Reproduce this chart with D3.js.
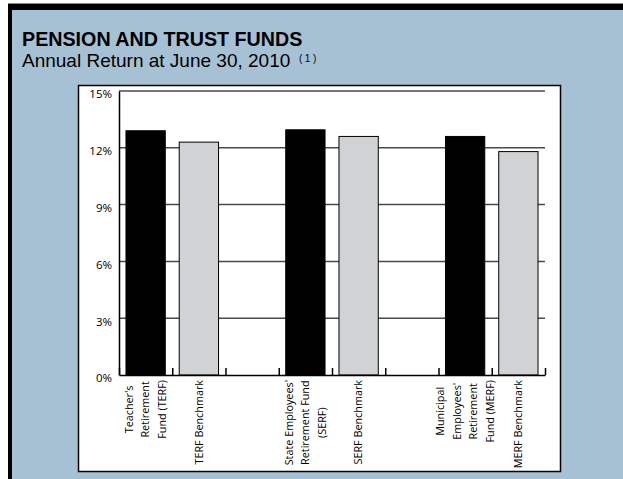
<!DOCTYPE html>
<html><head><meta charset="utf-8">
<script src="https://cdn.jsdelivr.net/npm/d3@7"></script>
<style>body{margin:0;background:#fff} svg{display:block}</style>
</head><body>
<svg id="chart" width="623" height="479"></svg>
<script>
// ---- data ----
const categories = ["TERF", "TERF Benchmark", "gap1", "SERF", "SERF Benchmark", "gap2", "MERF", "MERF Benchmark"];
const categoryLabels = [
  ["Teacher's", "Retirement", "Fund (TERF)"],
  ["TERF Benchmark"],
  [],
  ["State Employees'", "Retirement Fund", "(SERF)"],
  ["SERF Benchmark"],
  [],
  ["Municipal", "Employees'", "Retirement", "Fund (MERF)"],
  ["MERF Benchmark"]
];
const returns = [12.9, 12.3, null, 12.95, 12.6, null, 12.6, 11.8];
const kinds = ["fund", "benchmark", null, "fund", "benchmark", null, "fund", "benchmark"];
const yTicks = [0, 3, 6, 9, 12, 15];
const titleText = "PENSION AND TRUST FUNDS";
const subtitleText = "Annual Return at June 30, 2010";
const noteText = "(1)";

// ---- drawing ----
const svg = d3.select("#chart");
const W = 623, H = 479;

svg.append("rect").attr("width", W).attr("height", H).attr("fill", "#fff");
svg.append("rect").attr("x", 8).attr("y", 3).attr("width", W - 8).attr("height", H - 3).attr("fill", "#8a8a8a");
svg.append("rect").attr("x", 8).attr("y", 4).attr("width", W - 8).attr("height", H - 4).attr("fill", "#000");
svg.append("rect").attr("x", 12).attr("y", 10).attr("width", W - 12).attr("height", H - 10).attr("fill", "#a7c1d4");

svg.append("text").attr("x", 22).attr("y", 46)
  .attr("font-family", "Liberation Sans, Arial, sans-serif").attr("font-weight", "bold")
  .attr("font-size", 19.7).attr("fill", "#000").text(titleText);
svg.append("text").attr("x", 22).attr("y", 67)
  .attr("font-family", "Liberation Sans, Arial, sans-serif")
  .attr("font-size", 19).attr("fill", "#000").text(subtitleText);
svg.append("text").attr("x", 299).attr("y", 62)
  .attr("font-family", "Liberation Sans, Arial, sans-serif")
  .attr("font-size", 10).attr("letter-spacing", 2.5).attr("fill", "#000").text(noteText);

// white panel
svg.append("rect").attr("x", 78.5).attr("y", 85.5).attr("width", 482).attr("height", 386)
  .attr("fill", "#fff").attr("stroke", "#000").attr("stroke-width", 1.5);

const x = d3.scaleBand().domain(categories).range([119, 545]).paddingInner(0.262).paddingOuter(0.131);
const xb = d3.scaleLinear().domain([0, categories.length]).range([119, 545]);
const y = d3.scaleLinear().domain([0, 15]).range([375, 91]);

// gridlines
svg.append("g").selectAll("line").data(yTicks.filter(d => d > 0)).join("line")
  .attr("x1", 119).attr("x2", 545)
  .attr("y1", d => y(d)).attr("y2", d => y(d))
  .attr("stroke", "#4a4a4a").attr("stroke-width", 1.5);

// bars
const data = categories.map((c, i) => ({c, v: returns[i], k: kinds[i]})).filter(d => d.v != null);
svg.append("g").selectAll("rect").data(data).join("rect")
  .attr("x", d => x(d.c)).attr("width", x.bandwidth())
  .attr("y", d => y(d.v)).attr("height", d => y(0) - y(d.v))
  .attr("fill", d => d.k === "fund" ? "#000" : "#d1d2d4")
  .attr("stroke", "#000").attr("stroke-width", 1);

// y axis
const yAxis = svg.append("g").attr("transform", "translate(119,0)")
  .call(d3.axisLeft(y).tickValues(yTicks).tickSize(0).tickPadding(7).tickFormat(d => d + "%"));
yAxis.select(".domain").attr("stroke", "#000").attr("stroke-width", 1.5);
yAxis.selectAll("text").attr("font-family", "Open Sans, sans-serif").attr("font-size", 11.5)
  .attr("fill", "#000").attr("dy", "0.6em");

// x axis with boundary ticks pointing up
const xAxis = svg.append("g").attr("transform", "translate(0,375)")
  .call(d3.axisBottom(xb).tickValues(d3.range(0, categories.length + 1)).tickSize(-7).tickSizeOuter(0).tickFormat(""));
xAxis.select(".domain").attr("stroke", "#000").attr("stroke-width", 1.5);
xAxis.selectAll(".tick line").attr("stroke", "#000").attr("stroke-width", 1.5);

// category labels (rotated)
const lineGap = 16.6;
const labG = svg.append("g").attr("font-family", "Open Sans, sans-serif").attr("font-size", 10.8).attr("fill", "#000");
categories.forEach((c, i) => {
  const lines = categoryLabels[i];
  if (!lines.length) return;
  const cx = x(c) + x.bandwidth() / 2;
  const g = labG.append("g");
  const texts = lines.map((t, j) => g.append("text")
    .attr("text-anchor", "middle").attr("dy", "0.35em").text(t));
  const maxW = d3.max(texts, t => t.node().getComputedTextLength());
  const cy = 380 + maxW / 2;
  texts.forEach((t, j) => {
    const lx = cx + (j - (lines.length - 1) / 2) * lineGap;
    t.attr("transform", `translate(${lx},${cy}) rotate(-90)`);
  });
});
</script>
</body></html>
